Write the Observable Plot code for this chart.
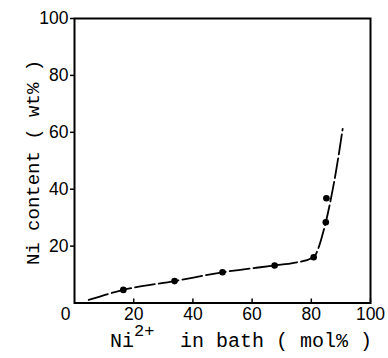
<!DOCTYPE html>
<html>
<head>
<meta charset="utf-8">
<script src="https://cdn.jsdelivr.net/npm/d3@7"></script>
<script src="https://cdn.jsdelivr.net/npm/@observablehq/plot@0.6"></script>
<style>
  html, body { margin: 0; padding: 0; background: #fff; }
  #chart { width: 388px; height: 358px; }
</style>
</head>
<body>
<div id="chart"></div>
<script>
// Measured points: Ni2+ in bath (mol%) vs Ni content (wt%)
const bathNi = [16.5, 33.8, 50.0, 67.6, 80.8, 84.9, 85.1];
const niContent = [4.6, 7.7, 10.8, 13.2, 16.1, 28.4, 36.8];

// Hand-drawn fitted curve
const curveX = [4.8, 16.5, 33.8, 50.0, 67.6, 74.1, 80.8, 82.5, 83.7, 84.9, 86.5, 88.2, 90.6];
const curveY = [1.1, 4.6, 7.7, 10.8, 13.2, 14.1, 16.1, 19.6, 23.7, 28.4, 36.0, 45.4, 61.2];

const xTicks = [20, 40, 60, 80, 100];
const yTicks = [20, 40, 60, 80, 100];
const xTitle = ["Ni", "2+", "in bath ( mol% )"];
const yTitle = "Ni content ( wt% )";

const points = bathNi.map((x, i) => ({x, y: niContent[i]}));
const curve = curveX.map((x, i) => ({x, y: curveY[i]}));

const tickFont = "'Liberation Sans', Arial, Helvetica, sans-serif";
const monoFont = "'Liberation Mono', 'Courier New', monospace";

const plot = Plot.plot({
  width: 388,
  height: 358,
  marginLeft: 74,
  marginRight: 18,
  marginTop: 18,
  marginBottom: 55.5,
  style: {fontFamily: tickFont, fontSize: "17.5px", color: "#000", background: "#fff"},
  x: {domain: [0, 100]},
  y: {domain: [0, 100]},
  marks: [
    Plot.axisY({ticks: yTicks, tickSize: 4, tickPadding: 2, label: null, fontSize: 17.5, strokeWidth: 1.5}),
    Plot.axisX({ticks: xTicks, tickSize: -4, tickPadding: 9, label: null, fontSize: 17.5, strokeWidth: 1.5}),
    Plot.text([{x: 0, y: 0}], {x: "x", y: "y", text: () => "0", dx: -9, dy: 5, lineAnchor: "top", fontSize: 17.5}),
    Plot.line(curve, {x: "x", y: "y", curve: "monotone-x", stroke: "#000", strokeWidth: 1.8, strokeDasharray: "20,4"}),
    Plot.dot(points, {x: "x", y: "y", r: 3.3, fill: "#000", stroke: "none"}),
    Plot.frame({stroke: "#000", strokeWidth: 2})
  ]
});

const svg = d3.select(plot);

// Y-axis title (rotated, monospace)
svg.append("text")
  .attr("transform", "translate(38.5,162.5) rotate(-90)")
  .attr("text-anchor", "middle")
  .attr("font-family", monoFont)
  .attr("font-size", 19)
  .attr("fill", "#000")
  .text(yTitle);

// X-axis title with superscript
const xt = svg.append("text")
  .attr("text-anchor", "start")
  .attr("font-family", monoFont)
  .attr("font-size", 20)
  .attr("fill", "#000")
  .attr("y", 347);
xt.append("tspan").attr("x", 110).attr("y", 347).text(xTitle[0]);
xt.append("tspan").attr("x", 134).attr("y", 336).attr("font-size", 17).text(xTitle[1]);
xt.append("tspan").attr("x", 180).attr("y", 347).text(xTitle[2]);

document.getElementById("chart").appendChild(plot);
</script>
</body>
</html>
